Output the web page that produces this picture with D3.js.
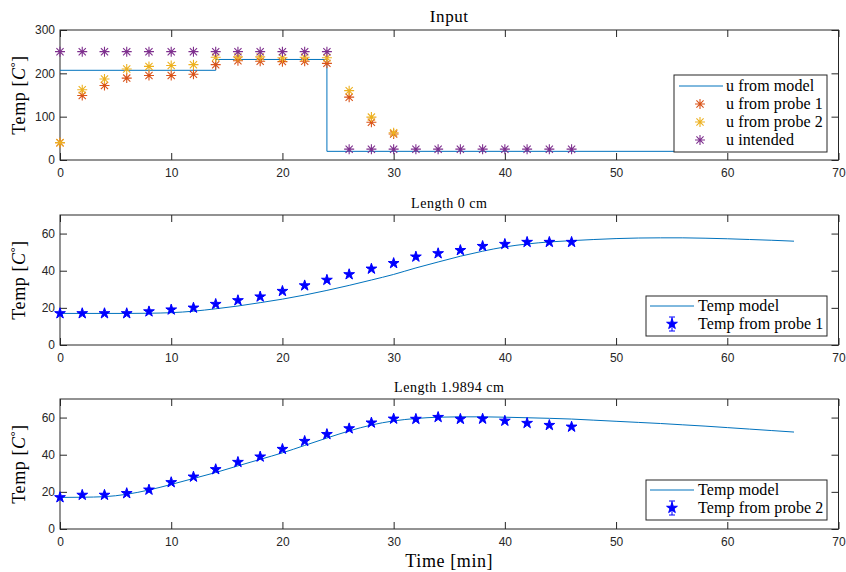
<!DOCTYPE html>
<html>
<head>
<meta charset="utf-8">
<script src="https://cdn.jsdelivr.net/npm/d3@7"></script>
<style>
body { margin: 0; background: #fff; }
svg { display: block; }
.tick text { font-family: "Liberation Sans", Arial, sans-serif; font-size: 12px; fill: #262626; }
.tick line { stroke: #262626; }
.serif { font-family: "Liberation Serif", "Times New Roman", serif; fill: #000; }
</style>
</head>
<body>
<svg id="chart" width="846" height="572"></svg>
<script>
// ---- data ----
const xTicks = [0, 10, 20, 30, 40, 50, 60, 70];
const uTicks = [0, 100, 200, 300];
const tempTicks = [0, 20, 40, 60];

// input panel
const uModelTime = [0, 14, 24, 66];
const uModelVal = [207, 232, 20, 20];
const uProbeTime = [0, 2, 4, 6, 8, 10, 12, 14, 16, 18, 20, 22, 24, 26, 28, 30];
const uProbe1 = [40, 149, 172, 189, 195, 195, 198, 220, 229, 228, 227, 228, 223, 145, 87, 60];
const uProbe2 = [40, 162, 187, 210, 216, 218, 220, 237, 238, 238, 236, 237, 236, 160, 99, 63];
const probeTime = [0, 2, 4, 6, 8, 10, 12, 14, 16, 18, 20, 22, 24, 26, 28, 30, 32, 34, 36, 38, 40, 42, 44, 46];
const uIntended = [250, 250, 250, 250, 250, 250, 250, 250, 250, 250, 250, 250, 250,
                   25, 25, 25, 25, 25, 25, 25, 25, 25, 25, 25];

// temperature panels
const modelTime = [0, 2, 4, 6, 8, 10, 12, 14, 16, 18, 20, 22, 24, 26, 28, 30, 32,
                   34, 36, 38, 40, 42, 44, 46, 48, 50, 52, 54, 56, 58, 60, 62, 64, 66];
const tempModel1 = [17, 17, 17, 17, 17.1, 17.4, 18.2, 19.5, 21, 22.8, 24.7, 26.9, 29.4, 32.1, 35, 38, 41.5,
                    44.7, 47.8, 50.5, 52.8, 54.4, 55.5, 56.2, 56.8, 57.3, 57.6, 57.7, 57.7, 57.5, 57.2, 56.8, 56.4, 55.9];
const tempProbe1 = [17, 17, 17, 17, 18, 19, 20, 22, 24, 26, 29, 32, 35, 38, 41, 44, 47.5, 49.3, 51, 53.2, 54.3, 55.4, 55.4, 55.4];
const tempModel2 = [17, 17.1, 17.4, 18.7, 21, 24, 27.2, 30.4, 34, 37.5, 41, 45, 49, 52.8, 56, 58.2, 59.5,
                    60.2, 60.4, 60.4, 60.2, 59.9, 59.6, 59.2, 58.6, 58, 57.4, 56.8, 56.1, 55.4, 54.6, 53.8, 53, 52.2];
const tempProbe2 = [17, 18.3, 18.3, 19.2, 21.1, 25.1, 28.1, 32.1, 36, 38.9, 43, 47.3, 51, 54.1, 57.2, 59.3, 59.2, 60.2, 59.2, 59.3, 58.2, 57, 55.9, 55];

const blue = "#0072BD", orange = "#D95319", yellow = "#EDB120", purple = "#7E2F8E";

const svg = d3.select("#chart");
const x = d3.scaleLinear().domain([0, 70]).range([60, 838.5]);

// draws the box, ticks (inward, mirrored) and y label of one panel
function makePanel(top, bottom, yMax, yTicks) {
  const y = d3.scaleLinear().domain([0, yMax]).range([bottom, top]);
  const g = svg.append("g");

  g.append("g").attr("transform", `translate(0,${bottom})`)
    .call(d3.axisBottom(x).tickValues(xTicks).tickSizeInner(-7).tickSizeOuter(0).tickPadding(8))
    .call(a => a.select(".domain").remove());
  g.append("g").attr("transform", `translate(0,${top})`)
    .call(d3.axisTop(x).tickValues(xTicks).tickSizeInner(-7).tickSizeOuter(0).tickFormat(""))
    .call(a => a.select(".domain").remove());
  g.append("g").attr("transform", `translate(${x.range()[0]},0)`)
    .call(d3.axisLeft(y).tickValues(yTicks).tickSizeInner(-7).tickSizeOuter(0).tickPadding(5))
    .call(a => a.select(".domain").remove());
  g.append("g").attr("transform", `translate(${x.range()[1]},0)`)
    .call(d3.axisRight(y).tickValues(yTicks).tickSizeInner(-7).tickSizeOuter(0).tickFormat(""))
    .call(a => a.select(".domain").remove());

  g.append("rect")
    .attr("x", x.range()[0]).attr("y", top)
    .attr("width", x.range()[1] - x.range()[0]).attr("height", bottom - top)
    .attr("fill", "none").attr("stroke", "#262626").attr("stroke-width", 1);

  // y label: Temp [C°]
  const yl = g.append("text").attr("class", "serif")
    .attr("transform", `translate(25,${(top + bottom) / 2}) rotate(-90)`)
    .attr("text-anchor", "middle").style("font-size", "18px").style("letter-spacing", "0.6px");
  yl.append("tspan").text("Temp [");
  yl.append("tspan").style("font-style", "italic").text("C");
  yl.append("tspan").attr("dy", -6).style("font-size", "12px").text("°");
  yl.append("tspan").attr("dy", 6).text("]");

  const plot = g.append("g");
  return { y, g, plot };
}

function asterisk(sel, color) {
  const r = 5, d = r * 0.72;
  sel.append("path")
    .attr("d", `M${-r},0H${r}M0,${-r}V${r}M${-d},${-d}L${d},${d}M${-d},${d}L${d},${-d}`)
    .attr("stroke", color).attr("stroke-width", 1.1).attr("fill", "none");
}

const star = d3.symbol(d3.symbolStar).size(36);

function title(txt, cy, size, spacing) {
  svg.append("text").attr("class", "serif")
    .attr("x", (x.range()[0] + x.range()[1]) / 2).attr("y", cy)
    .attr("text-anchor", "middle").style("font-size", size + "px")
    .style("letter-spacing", spacing + "px").text(txt);
}

function legendBox(x0, y0, w, h) {
  const lg = svg.append("g");
  lg.append("rect").attr("x", x0).attr("y", y0).attr("width", w).attr("height", h)
    .attr("fill", "#fff").attr("stroke", "#262626").attr("stroke-width", 1);
  return lg;
}

function legendText(lg, tx, ty, label) {
  lg.append("text").attr("class", "serif").attr("x", tx).attr("y", ty)
    .style("font-size", "16px").style("letter-spacing", "0.1px").text(label);
}

// ---------- panel 1: Input ----------
const p1 = makePanel(30, 160, 300, uTicks);
title("Input", 21.5, 17, 0.6);

p1.plot.append("path")
  .datum(uModelTime.map((t, i) => [t, uModelVal[i]]))
  .attr("d", d3.line().x(d => x(d[0])).y(d => p1.y(d[1])).curve(d3.curveStepAfter))
  .attr("fill", "none").attr("stroke", blue).attr("stroke-width", 1);

[[uProbeTime, uProbe1, orange], [uProbeTime, uProbe2, yellow], [probeTime, uIntended, purple]]
  .forEach(([ts, vs, c]) => {
    p1.plot.selectAll(null).data(ts.map((t, i) => [t, vs[i]])).enter()
      .append("g").attr("transform", d => `translate(${x(d[0])},${p1.y(d[1])})`)
      .call(asterisk, c);
  });

const lg1 = legendBox(674, 75, 153, 77);
const lg1Items = [["u from model", "line", blue], ["u from probe 1", "ast", orange],
                  ["u from probe 2", "ast", yellow], ["u intended", "ast", purple]];
lg1Items.forEach(([label, kind, c], i) => {
  const cy = 86 + i * 18;
  if (kind === "line") {
    lg1.append("line").attr("x1", 679).attr("x2", 723).attr("y1", cy).attr("y2", cy)
      .attr("stroke", c).attr("stroke-width", 1);
  } else {
    lg1.append("g").attr("transform", `translate(700,${cy})`).call(asterisk, c);
  }
  legendText(lg1, 726, cy + 5, label);
});

// ---------- panels 2 & 3: temperatures ----------
function tempPanel(top, bottom, label, model, probe, legendName, legendTop) {
  const p = makePanel(top, bottom, 70, tempTicks);
  title(label, top - 7.5, 14, 0.5);

  p.plot.append("path")
    .datum(modelTime.map((t, i) => [t, model[i]]))
    .attr("d", d3.line().x(d => x(d[0])).y(d => p.y(d[1])).curve(d3.curveMonotoneX))
    .attr("fill", "none").attr("stroke", blue).attr("stroke-width", 1);

  p.plot.selectAll(null).data(probeTime.map((t, i) => [t, probe[i]])).enter()
    .append("path")
    .attr("transform", d => `translate(${x(d[0])},${p.y(d[1])})`)
    .attr("d", star)
    .attr("fill", "#0000ff").attr("stroke", "#0000ff").attr("stroke-width", 1);

  const lg = legendBox(646, legendTop, 181, 40);
  const r1 = legendTop + 10, r2 = legendTop + 28;
  lg.append("line").attr("x1", 650).attr("x2", 694).attr("y1", r1).attr("y2", r1)
    .attr("stroke", blue).attr("stroke-width", 1);
  legendText(lg, 698, r1 + 5, "Temp model");
  lg.append("path")
    .attr("d", `M672,${r2 - 7}V${r2 + 7}M669,${r2 - 7}H675M669,${r2 + 7}H675`)
    .attr("stroke", "#0000ff").attr("stroke-width", 1).attr("fill", "none");
  lg.append("path").attr("transform", `translate(672,${r2})`).attr("d", star)
    .attr("fill", "#0000ff").attr("stroke", "#0000ff");
  legendText(lg, 698, r2 + 5, legendName);
}

tempPanel(215, 345, "Length 0 cm", tempModel1, tempProbe1, "Temp from probe 1", 296);
tempPanel(399, 529, "Length 1.9894 cm", tempModel2, tempProbe2, "Temp from probe 2", 480);

svg.append("text").attr("class", "serif")
  .attr("x", (x.range()[0] + x.range()[1]) / 2).attr("y", 567)
  .attr("text-anchor", "middle").style("font-size", "18px").style("letter-spacing", "0.6px")
  .text("Time [min]");
</script>
</body>
</html>
